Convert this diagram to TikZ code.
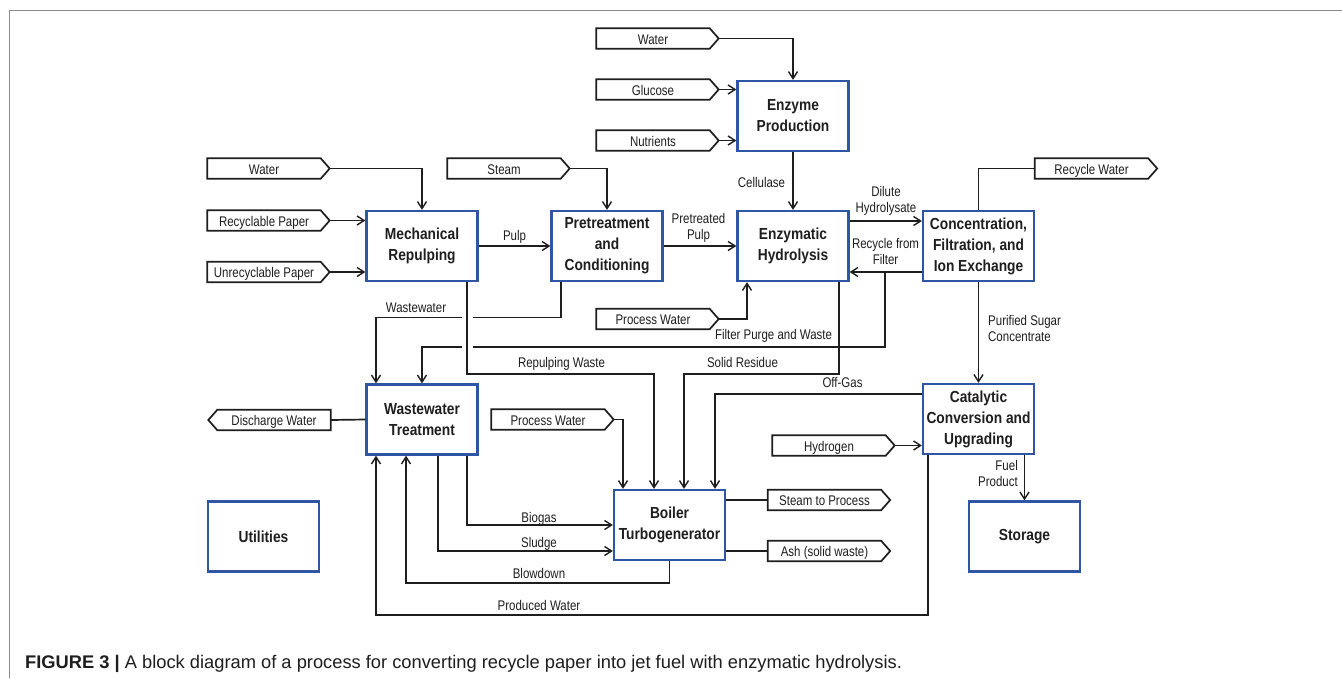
\documentclass[tikz,border=0pt]{standalone}
\usepackage{fontspec}
\setmainfont{Liberation Sans}
\newfontfamily\lblfont[FakeStretch=0.82]{Liberation Sans}
\newfontfamily\boxfont[FakeStretch=0.86]{Liberation Sans}
\usetikzlibrary{arrows.meta,calc}
\definecolor{boxblue}{RGB}{46,86,164}
\definecolor{ink}{RGB}{30,30,30}
\definecolor{framegray}{RGB}{140,140,140}
\newcommand\mkpentR[1]{\draw[pentline] (#1.north west) -- (#1.north east) -- ([xshift=9pt]#1.east) -- (#1.south east) -- (#1.south west) -- cycle;}
\newcommand\mkpentL[1]{\draw[pentline] (#1.north east) -- (#1.north west) -- ([xshift=-9pt]#1.west) -- (#1.south west) -- (#1.south east) -- cycle;}
\begin{document}
\begin{tikzpicture}[x=1pt,y=-1pt,
  blk/.style={draw=boxblue, line width=2.3pt, fill=white, minimum width=111pt, minimum height=70pt, inner sep=0pt, align=center, text=ink, font=\boxfont\bfseries\fontsize{16}{21}\selectfont},
  pent/.style={minimum width=113pt, minimum height=20pt, inner sep=0pt, text height=11.5pt, text depth=0pt, text=ink, font=\lblfont\fontsize{14}{16}\selectfont},
  pentline/.style={draw=ink, line width=1.7pt, line join=miter},
  lbl/.style={inner sep=0pt, text=ink, font=\lblfont\fontsize{14}{16}\selectfont, align=center},
  wire/.style={draw=ink, line width=1.7pt},
  arr/.style={wire, -{Straight Barb[length=7pt,width=9pt,line width=1.4pt]}},
  gap/.style={draw=white, line width=4pt},
]
\useasboundingbox (0,0) rectangle (1342,678);
\fill[white] (0,0) rectangle (1342,678);
\draw[framegray, line width=1.5pt] (9.5,678) -- (9.5,10.5) -- (1342,10.5);

% process blocks
\node[blk] (mech) at (422,246) {Mechanical\\Repulping};
\node[blk] (pre) at (607,246) {Pretreatment\\and\\Conditioning};
\node[blk] (enz) at (793,246) {Enzymatic\\Hydrolysis};
\node[blk] (ep) at (793,116) {Enzyme\\Production};
\node[blk] (conc) at (978.5,246) {Concentration,\\Filtration, and\\Ion Exchange};
\node[blk] (cat) at (978.5,419) {Catalytic\\Conversion and\\Upgrading};
\node[blk] (sto) at (1024.5,536.5) {Storage};
\node[blk] (ww) at (422,419.5) {Wastewater\\Treatment};
\node[blk] (util) at (263.5,536.5) {Utilities};
\node[blk] (boil) at (669.5,525) {Boiler\\Turbogenerator};

% stream pentagons
\node[pent] (wl) at (264,168.5) {Water};
\node[pent] (rp) at (264,220.5) {Recyclable Paper};
\node[pent] (up) at (264,272) {Unrecyclable Paper};
\node[pent] (wt) at (653,38.5) {Water};
\node[pent] (gl) at (653,89.5) {Glucose};
\node[pent] (nu) at (653,140.5) {Nutrients};
\node[pent] (st) at (504,168.5) {Steam};
\node[pent] (rw) at (1091.5,168.5) {Recycle Water};
\node[pent] (pw1) at (653,319) {Process Water};
\node[pent] (pw2) at (548,419.5) {Process Water};
\node[pent] (hy) at (829,445.5) {Hydrogen};
\node[pent] (sp) at (824.5,500) {Steam to Process};
\node[pent] (ash) at (824.5,551) {Ash (solid waste)};
\node[pent] (dw) at (274,420) {Discharge Water};
\mkpentR{wl}\mkpentR{rp}\mkpentR{up}\mkpentR{wt}\mkpentR{gl}\mkpentR{nu}
\mkpentR{st}\mkpentR{rw}\mkpentR{pw1}\mkpentR{pw2}\mkpentR{hy}\mkpentR{sp}\mkpentR{ash}
\mkpentL{dw}

% helper coordinates
\coordinate (dh) at (0,221);
\coordinate (rf) at (0,272);
\coordinate (fpx) at (885,272);
\coordinate (fpy) at (0,347);
\coordinate (wwy) at (0,317.5);
\coordinate (rpw) at (467,282);

% inputs
\draw[arr] ([xshift=9pt]wl.east) -| (mech.north);
\draw[arr] ([xshift=9pt]rp.east) -- (rp.east -| mech.west);
\draw[arr] ([xshift=9pt]up.east) -- (up.east -| mech.west);
\draw[arr] ([xshift=9pt]wt.east) -| (ep.north);
\draw[arr] ([xshift=9pt]gl.east) -- (gl.east -| ep.west);
\draw[arr] ([xshift=9pt]nu.east) -- (nu.east -| ep.west);
\draw[arr] ([xshift=9pt]st.east) -| (pre.north);
\draw[arr] ([xshift=9pt]pw1.east) -| ([xshift=-46pt]enz.south);
\draw[arr] ([xshift=9pt]pw2.east) -| ([xshift=-46.5pt]boil.north);
\draw[arr] ([xshift=9pt]hy.east) -- (hy.east -| cat.west);

% main flow
\draw[arr] (mech.east) -- (pre.west);
\draw[arr] (pre.east) -- (enz.west);
\draw[arr] (ep.south) -- (enz.north);
\draw[arr] (enz.east |- dh) -- (conc.west |- dh);
\draw[arr] (conc.west |- rf) -- (enz.east |- rf);
\draw[arr] (conc.south) -- (cat.north);
\draw[arr] (cat.south -| sto.north) -- (sto.north);

% outputs
\draw[wire] (conc.north) |- (rw.west);
\draw[wire] (boil.east |- sp.west) -- (sp.west);
\draw[wire] (boil.east |- ash.west) -- (ash.west);
\draw[wire] (ww.west) -- (dw.east);

% waste streams
\draw[arr] ([xshift=-46pt]pre.south) -- ([xshift=-46pt]pre.south |- wwy) -| ([xshift=-46pt]ww.north);
\draw[arr] (fpx) -- (fpx |- fpy) -| (ww.north);
\draw[gap] ([xshift=-5.5pt]rpw |- wwy) -- ([xshift=5.5pt]rpw |- wwy);
\draw[gap] ([xshift=-5.5pt]rpw |- fpy) -- ([xshift=5.5pt]rpw |- fpy);
\draw[arr] (rpw) -- ++(0,92) -| ([xshift=-15.5pt]boil.north);
\draw[arr] ([xshift=46pt]enz.south) -- ++(0,92) -| ([xshift=14.5pt]boil.north);
\draw[arr] ([yshift=25pt]cat.west) -| ([xshift=45.5pt]boil.north);
\draw[arr] ([xshift=45pt]ww.south) |- (boil.west);
\draw[arr] ([xshift=16pt]ww.south) |- ([yshift=-26pt]boil.west);
\draw[arr] (boil.south) -- ++(0,22) -| ([xshift=-16pt]ww.south);
\draw[arr] ([xshift=-50.5pt]cat.south) -- ++(0,160) -| ([xshift=-46pt]ww.south);

% connector labels
\node[lbl, anchor=base] (lpulp) at (514.5,240) {Pulp};
\node[lbl, anchor=north] (lpp) at (698.5,213) {Pretreated\\Pulp};
\node[lbl, anchor=north] (ldh) at (886,186.5) {Dilute\\Hydrolysate};
\node[lbl, anchor=north] (lrf) at (885.5,238) {Recycle from\\Filter};
\node[lbl, anchor=base] (lcell) at (761.5,187) {Cellulase};
\node[lbl, anchor=base] (lww) at (416,312.5) {Wastewater};
\node[lbl, anchor=base] (lfp) at (773.5,339) {Filter Purge and Waste};
\node[lbl, anchor=base] (lrw) at (561.5,367.5) {Repulping Waste};
\node[lbl, anchor=base] (lsr) at (742.5,367) {Solid Residue};
\node[lbl, anchor=base] (log) at (842.5,387.5) {Off-Gas};
\node[lbl, anchor=north west, align=left] (lps) at (988,315) {Purified Sugar\\Concentrate};
\node[lbl, anchor=north east, align=right] (lfuel) at (1018,460) {Fuel\\Product};
\node[lbl, anchor=base] (lbio) at (539,522.7) {Biogas};
\node[lbl, anchor=base] (lsl) at (539,547) {Sludge};
\node[lbl, anchor=base] (lbd) at (539,578) {Blowdown};
\node[lbl, anchor=base] (lpw) at (539,610.5) {Produced Water};

% caption
\node[anchor=base west, inner sep=0pt, text=ink, font=\fontsize{18.3}{22}\selectfont] (cap) at (25,668)
  {\textbf{FIGURE 3 |} A block diagram of a process for converting recycle paper into jet fuel with enzymatic hydrolysis.};
\end{tikzpicture}
\end{document}
